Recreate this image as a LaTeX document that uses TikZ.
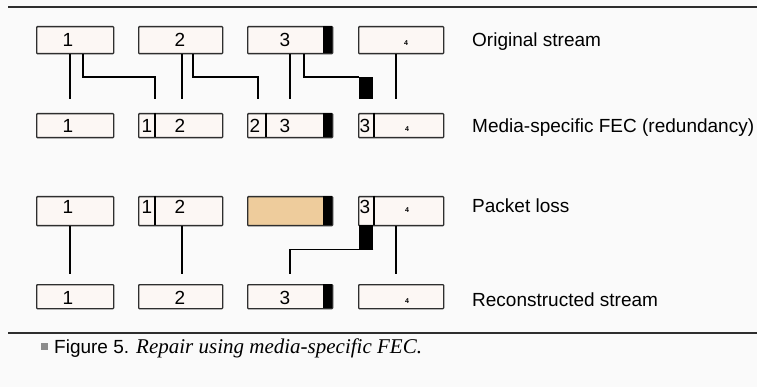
\documentclass[tikz,border=0pt]{standalone}
\usepackage{fontspec}
\setmainfont{Liberation Sans}
\newfontfamily\capserif{Liberation Serif}
\definecolor{bgc}{HTML}{FAFAFA}
\definecolor{boxc}{HTML}{FCF7F4}
\definecolor{lossc}{HTML}{EECC9C}
\definecolor{edgec}{HTML}{2E2E2E}
\definecolor{bulc}{HTML}{8C8C8C}
\tikzset{
  pkt/.style={draw=edgec, line width=1.3pt, fill=boxc, rounded corners=0.8pt, inner sep=0pt, anchor=north west},
  lost/.style={pkt, fill=lossc},
  num/.style={inner sep=0pt, font=\fontsize{19}{19}\selectfont},
  tiny/.style={inner sep=0pt, font=\fontsize{7}{7}\selectfont\bfseries},
  lbl/.style={inner sep=0pt, anchor=base west, font=\fontsize{19}{19}\selectfont},
  conn/.style={line width=1.3pt, draw=black},
  blk/.style={fill=black, inner sep=0pt, anchor=north west},
  rule/.style={line width=1.6pt, draw=edgec}
}
\begin{document}
\begin{tikzpicture}[x=1pt,y=-1pt]
\fill[bgc] (0,0) rectangle (757,387);
\useasboundingbox (0,0) rectangle (757,387);
% rules
\coordinate (tl) at (8,7); \coordinate (tr) at (757,7);
\coordinate (bl) at (8,333); \coordinate (br) at (757,333);
\draw[rule] (tl) -- (tr);
\draw[rule] (bl) -- (br);
% ---------- Row 1: original stream
\node[pkt, minimum width=77pt, minimum height=27pt] (a1) at (36,26) {};
\node[pkt, minimum width=84pt, minimum height=27pt] (a2) at (138,26) {};
\node[pkt, minimum width=85pt, minimum height=27pt] (a3) at (247,26) {};
\node[pkt, minimum width=85pt, minimum height=27pt] (a4) at (358,26) {};
\fill[black] (323,26) rectangle (332,53);
\node[num] (a1t) at (68,40) {1};
\node[num] (a2t) at (180,40) {2};
\node[num] (a3t) at (285,40) {3};
\node[tiny] (a4t) at (406,43) {4};
\node[lbl] (l1) at (472,47) {Original stream};
% ---------- Row 2: media-specific FEC
\node[pkt, minimum width=77pt, minimum height=24pt] (b1) at (36,113) {};
\node[pkt, minimum width=84pt, minimum height=24pt] (b2) at (138,113) {};
\node[pkt, minimum width=85pt, minimum height=24pt] (b3) at (247,113) {};
\node[pkt, minimum width=85pt, minimum height=24pt] (b4) at (358,113) {};
\fill[black] (323,113) rectangle (332,137);
\draw[conn] (155,113) -- (155,137);
\draw[conn] (266,113) -- (266,137);
\draw[conn] (374,113) -- (374,137);
\node[num] (b1t) at (68,126) {1};
\node[num] (b2s) at (147,126) {1};
\node[num] (b2t) at (180,126) {2};
\node[num] (b3s) at (255,126) {2};
\node[num] (b3t) at (285,126) {3};
\node[num] (b4s) at (365,126) {3};
\node[tiny] (b4t) at (407,129) {4};
\node[lbl] (l2) at (472,133) {Media-specific FEC (redundancy)};
% connectors row1 -> row2
\coordinate (e1) at (70,99);
\coordinate (e2) at (155,99);
\coordinate (e3) at (182,99);
\coordinate (e4) at (258,99);
\coordinate (e5) at (290,99);
\coordinate (e6) at (396,99);
\coordinate (h1) at (83,77);
\coordinate (h2) at (193,77);
\coordinate (h3) at (304,77);
\node[blk, minimum width=14pt, minimum height=22pt] (k1) at (359,77) {};
\draw[conn] (a1.south -| e1) -- (e1);
\draw[conn] (a1.south -| h1) -- (h1) -- (h1 -| e2) -- (e2);
\draw[conn] (a2.south -| e3) -- (e3);
\draw[conn] (a2.south -| h2) -- (h2) -- (h2 -| e4) -- (e4);
\draw[conn] (a3.south -| e5) -- (e5);
\draw[conn] (a3.south -| h3) -- (h3) -- (k1.north west);
\draw[conn] (a4.south -| e6) -- (e6);
% ---------- Row 3: packet loss
\node[pkt, minimum width=77pt, minimum height=29pt] (c1) at (36,196) {};
\node[pkt, minimum width=84pt, minimum height=29pt] (c2) at (138,196) {};
\node[lost, minimum width=85pt, minimum height=29pt] (c3) at (247,196) {};
\node[pkt, minimum width=85pt, minimum height=29pt] (c4) at (358,196) {};
\fill[black] (323,196) rectangle (332,225);
\draw[conn] (155,196) -- (155,225);
\draw[conn] (374,196) -- (374,225);
\node[num] (c1t) at (68,207) {1};
\node[num] (c2s) at (147,207) {1};
\node[num] (c2t) at (180,207) {2};
\node[num] (c4s) at (365,207) {3};
\node[tiny] (c4t) at (407,210) {4};
\node[lbl] (l3) at (472,213) {Packet loss};
% ---------- Row 4: reconstructed stream
\node[pkt, minimum width=77pt, minimum height=24pt] (d1) at (36,284) {};
\node[pkt, minimum width=84pt, minimum height=24pt] (d2) at (138,284) {};
\node[pkt, minimum width=85pt, minimum height=24pt] (d3) at (247,284) {};
\node[pkt, minimum width=85pt, minimum height=24pt] (d4) at (358,284) {};
\fill[black] (323,284) rectangle (332,308);
\node[num] (d1t) at (68,298) {1};
\node[num] (d2t) at (180,298) {2};
\node[num] (d3t) at (285,298) {3};
\node[tiny] (d4t) at (407,301) {4};
\node[lbl] (l4) at (472,306) {Reconstructed stream};
% connectors row3 -> row4
\coordinate (f1) at (70,274);
\coordinate (f2) at (182,274);
\coordinate (f3) at (290,274);
\coordinate (f4) at (396,274);
\node[blk, minimum width=14pt, minimum height=24pt] (k2) at (359,225) {};
\draw[conn] (c1.south -| f1) -- (f1);
\draw[conn] (c2.south -| f2) -- (f2);
\draw[conn] (c4.south -| f4) -- (f4);
\draw[conn] (k2.south east) -- (k2.south east -| f3) -- (f3);
% ---------- caption
\fill[bulc] (41,343) rectangle (48,350);
\node[lbl] (cap) at (54,353) {Figure 5. {\capserif\itshape\fontsize{21}{21}\selectfont Repair using media-specific FEC.}};
\end{tikzpicture}
\end{document}
